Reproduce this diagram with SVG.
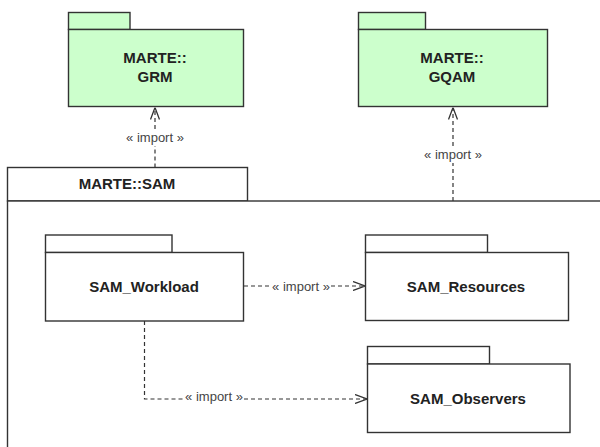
<svg xmlns="http://www.w3.org/2000/svg" width="600" height="447" viewBox="0 0 600 447">
<defs>
<style>
.pkg{stroke:#333;stroke-width:1.4}
.green{fill:#ccffcc}
.white{fill:#fff}
.name{font-family:"Liberation Sans",Arial,sans-serif;font-weight:bold;font-size:15px;fill:#222;text-anchor:middle}
.lbl{font-family:"Liberation Sans",Arial,sans-serif;font-size:13px;fill:#444;text-anchor:middle}
.dep{fill:none;stroke:#333;stroke-width:1.2;stroke-dasharray:4 3}
</style>
<marker id="open" viewBox="0 0 12 10" refX="12" refY="5" markerWidth="12" markerHeight="10" markerUnits="userSpaceOnUse" orient="auto">
<path d="M0,0.5 L12,5 L0,9.5" fill="none" stroke="#333" stroke-width="1.3"/>
</marker>
</defs>
<rect width="600" height="447" fill="#fff"/>
<g id="sam">
<rect class="pkg white" x="7.5" y="167.5" width="240" height="33.5"/>
<rect class="pkg white" x="7.5" y="201" width="700" height="300"/>
<text class="name" x="127" y="188.5">MARTE::SAM</text>
</g>
<g id="grm">
<rect class="pkg green" x="68.5" y="12.5" width="61.5" height="17"/>
<rect class="pkg green" x="68.5" y="29.5" width="175" height="77"/>
<text class="name" x="155" y="63">MARTE::</text>
<text class="name" x="155" y="82">GRM</text>
</g>
<g id="gqam">
<rect class="pkg green" x="358.5" y="12.5" width="67" height="17"/>
<rect class="pkg green" x="358.5" y="29.5" width="189" height="77"/>
<text class="name" x="452" y="63">MARTE::</text>
<text class="name" x="452" y="82">GQAM</text>
</g>
<g id="workload">
<rect class="pkg white" x="45.5" y="235" width="126.5" height="17.5"/>
<rect class="pkg white" x="45.5" y="252.5" width="198" height="68.5"/>
<text class="name" x="144" y="292">SAM_Workload</text>
</g>
<g id="resources">
<rect class="pkg white" x="365.5" y="235" width="122" height="17.5"/>
<rect class="pkg white" x="365.5" y="252.5" width="203" height="68"/>
<text class="name" x="466" y="292">SAM_Resources</text>
</g>
<g id="observers">
<rect class="pkg white" x="367.5" y="346.5" width="122" height="17.5"/>
<rect class="pkg white" x="367.5" y="364" width="202.5" height="68.5"/>
<text class="name" x="468" y="404">SAM_Observers</text>
</g>
<g id="connectors">
<path class="dep" d="M155,167.5 V146"/>
<path class="dep" d="M155,129 V107.5" marker-end="url(#open)"/>
<text class="lbl" x="155" y="141.5">« import »</text>
<path class="dep" d="M453,201 V163"/>
<path class="dep" d="M453,146 V107.5" marker-end="url(#open)"/>
<text class="lbl" x="453" y="158.5">« import »</text>
<path class="dep" d="M244,286 H271"/>
<path class="dep" d="M331,286 H365" marker-end="url(#open)"/>
<text class="lbl" x="301" y="290.5">« import »</text>
<path class="dep" d="M144.5,321 V399 H184"/>
<path class="dep" d="M244,399 H367" marker-end="url(#open)"/>
<text class="lbl" x="214" y="400.5">« import »</text>
</g>
</svg>
